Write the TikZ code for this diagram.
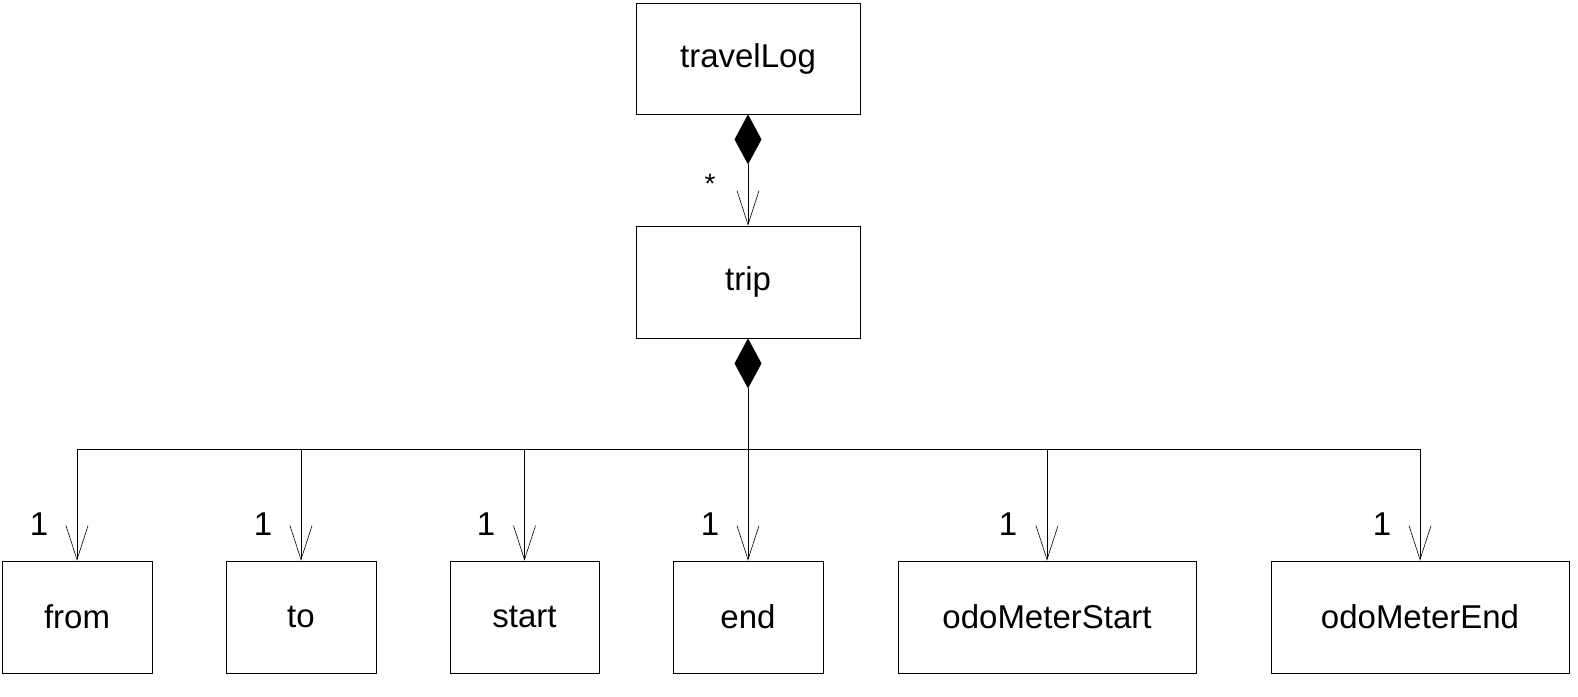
\documentclass[tikz,border=0pt]{standalone}
\usepackage{fontspec}
\setmainfont{Liberation Sans}
\usetikzlibrary{arrows.meta}
\begin{document}
\begin{tikzpicture}[x=1pt,y=-1pt,
  cls/.style={draw,line width=0.8pt,rectangle,inner sep=0pt,minimum height=112pt,font=\fontsize{33}{39}\selectfont},
  mult/.style={font=\fontsize{33}{39}\selectfont,inner sep=0pt},
  comp/.style={line width=0.8pt,{Diamond[length=50pt,width=27pt,fill=black]}-{Straight Barb[length=34pt,width=22pt,line width=0.6pt]}},
  nav/.style={line width=0.8pt,-{Straight Barb[length=34pt,width=22pt,line width=0.6pt]}},
  compline/.style={line width=0.8pt,{Diamond[length=50pt,width=27pt,fill=black]}-}]
\useasboundingbox (0,0) rectangle (1578,696);
\node[cls,minimum width=224pt,minimum height=111pt] (travelLog) at (748,58.5) {travelLog};
\node[cls,minimum width=224pt] (trip) at (748,282) {trip};
\node[cls,minimum width=150pt] (from) at (77,617) {from};
\node[cls,minimum width=150pt] (to) at (301,617) {to};
\node[cls,minimum width=149pt] (start) at (524.5,617) {start};
\node[cls,minimum width=150pt] (end) at (748,617) {end};
\node[cls,minimum width=298pt] (odoMeterStart) at (1047,617) {odoMeterStart};
\node[cls,minimum width=298pt] (odoMeterEnd) at (1420,617) {odoMeterEnd};
\coordinate (bus) at (748,449);
\draw[comp] (travelLog) -- (trip);
\node[font=\fontsize{28}{32}\selectfont,inner sep=0pt] (star) at (710,184) {*};
\draw[compline] (trip.south) -- (bus);
\draw[nav] (bus) -- (end.north);
\draw[nav] (bus) -| (from.north);
\draw[nav] (bus) -| (to.north);
\draw[nav] (bus) -| (start.north);
\draw[nav] (bus) -| (odoMeterStart.north);
\draw[nav] (bus) -| (odoMeterEnd.north);
\node[mult] (m1) at (39,524) {1};
\node[mult] (m2) at (263,524) {1};
\node[mult] (m3) at (486,524) {1};
\node[mult] (m4) at (710,524) {1};
\node[mult] (m5) at (1008,524) {1};
\node[mult] (m6) at (1382,524) {1};
\end{tikzpicture}
\end{document}
